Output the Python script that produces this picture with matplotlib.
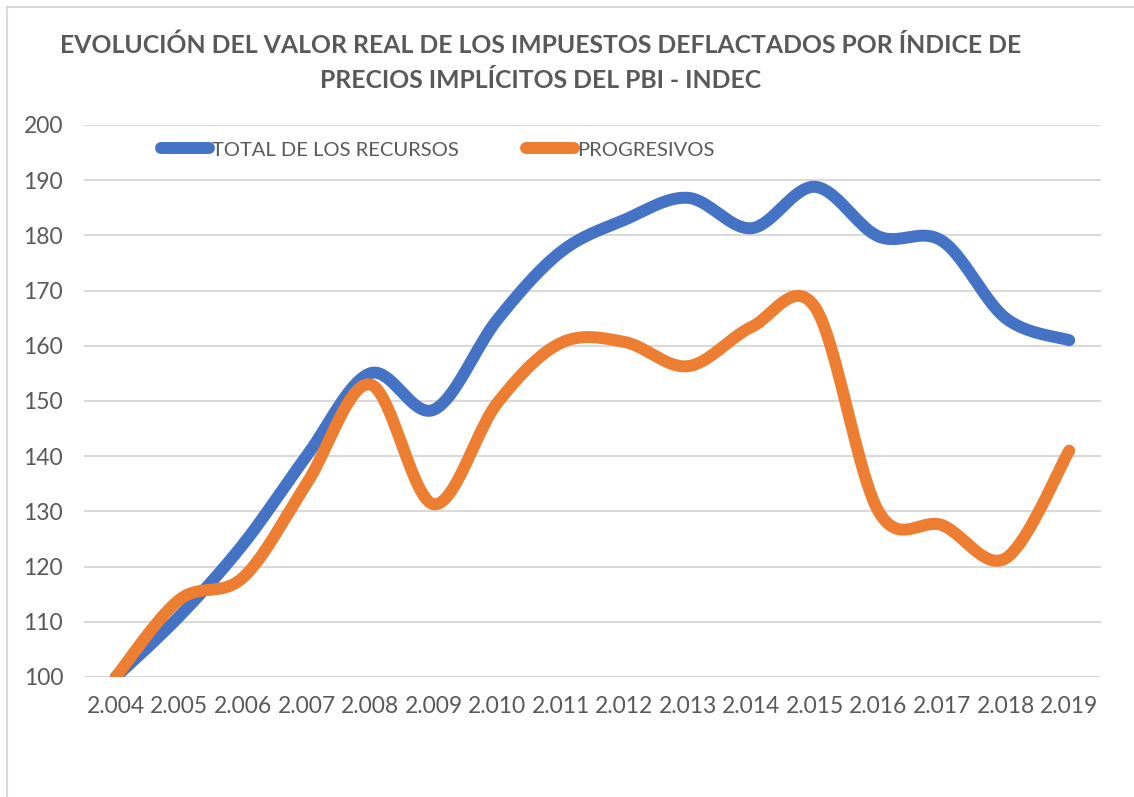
import numpy as np
import matplotlib
matplotlib.use("Agg")
import matplotlib.pyplot as plt
from matplotlib.lines import Line2D

years = ["2.004", "2.005", "2.006", "2.007", "2.008", "2.009", "2.010", "2.011",
         "2.012", "2.013", "2.014", "2.015", "2.016", "2.017", "2.018", "2.019"]
total = [100, 111, 124, 140, 155, 148.4, 164.7, 177, 182.8, 186.8, 181.3, 188.8, 179.8, 179, 165, 161]
progresivos = [100, 114, 118, 135, 153, 131.3, 149.6, 160.5, 160.7, 156.3, 163.4, 167, 130, 127.5, 121.5, 141]

title = "EVOLUCIÓN DEL VALOR REAL DE LOS IMPUESTOS DEFLACTADOS POR ÍNDICE DE\nPRECIOS IMPLÍCITOS DEL PBI - INDEC"
series_names = ["TOTAL DE LOS RECURSOS", "PROGRESIVOS"]
colors = ["#4472C4", "#ED7D31"]
gray = "#595959"


def smooth(x, y, n=40):
    # excel style smoothed line (catmull-rom bezier)
    x = np.asarray(x, float)
    y = np.asarray(y, float)
    pts = np.column_stack([x, y])
    out = [pts[0]]
    for i in range(len(pts) - 1):
        p0 = pts[i - 1] if i > 0 else pts[i]
        p1 = pts[i]
        p2 = pts[i + 1]
        p3 = pts[i + 2] if i + 2 < len(pts) else pts[i + 1]
        c1 = p1 + (p2 - p0) / 6
        c2 = p2 - (p3 - p1) / 6
        t = np.linspace(0, 1, n)[1:, None]
        b = (1 - t) ** 3 * p1 + 3 * (1 - t) ** 2 * t * c1 + 3 * (1 - t) * t ** 2 * c2 + t ** 3 * p2
        out.extend(b)
    out = np.array(out)
    return out[:, 0], out[:, 1]


plt.rcParams["font.family"] = ["Lato", "DejaVu Sans"]

fig = plt.figure(figsize=(11.34, 7.97), dpi=100)
ax = fig.add_axes([0.0741, 0.1506, 0.8968, 0.6926])

x = np.arange(len(years))
for vals, name, c in zip([total, progresivos], series_names, colors):
    sx, sy = smooth(x, vals)
    ax.plot(sx, sy, color=c, lw=8.6, solid_capstyle="round", solid_joinstyle="round",
            label=name, zorder=3)

ax.set_xlim(-0.5, len(years) - 0.5)
ax.set_ylim(100, 200)
ax.set_yticks(range(100, 201, 10))
ax.set_xticks(x)
ax.set_xticklabels(years)
ax.tick_params(axis="both", length=0, labelsize=16.5, colors=gray)
ax.tick_params(axis="x", pad=14)
ax.tick_params(axis="y", pad=15)
ax.grid(axis="y", color="#D9D9D9", lw=1.5, zorder=0)
for s in ax.spines.values():
    s.set_visible(False)

fig.suptitle(title, x=0.477, y=0.958, fontsize=17.8, fontweight="bold", color=gray,
             linespacing=1.65, va="top")

fig.legend(loc="center left", bbox_to_anchor=(0.142, 0.8118), ncol=2, frameon=False,
           fontsize=14.5, handlelength=2.4, handletextpad=0.15, columnspacing=3.3,
           borderpad=0, borderaxespad=0, labelcolor=gray)

# chart area border (left and top visible)
fig.add_artist(Line2D([0.0062, 0.0062], [0, 0.991], color="#D9D9D9", lw=1.5))
fig.add_artist(Line2D([0.0062, 1], [0.991, 0.991], color="#D9D9D9", lw=1.5))

fig.savefig("out.png", dpi=100)
